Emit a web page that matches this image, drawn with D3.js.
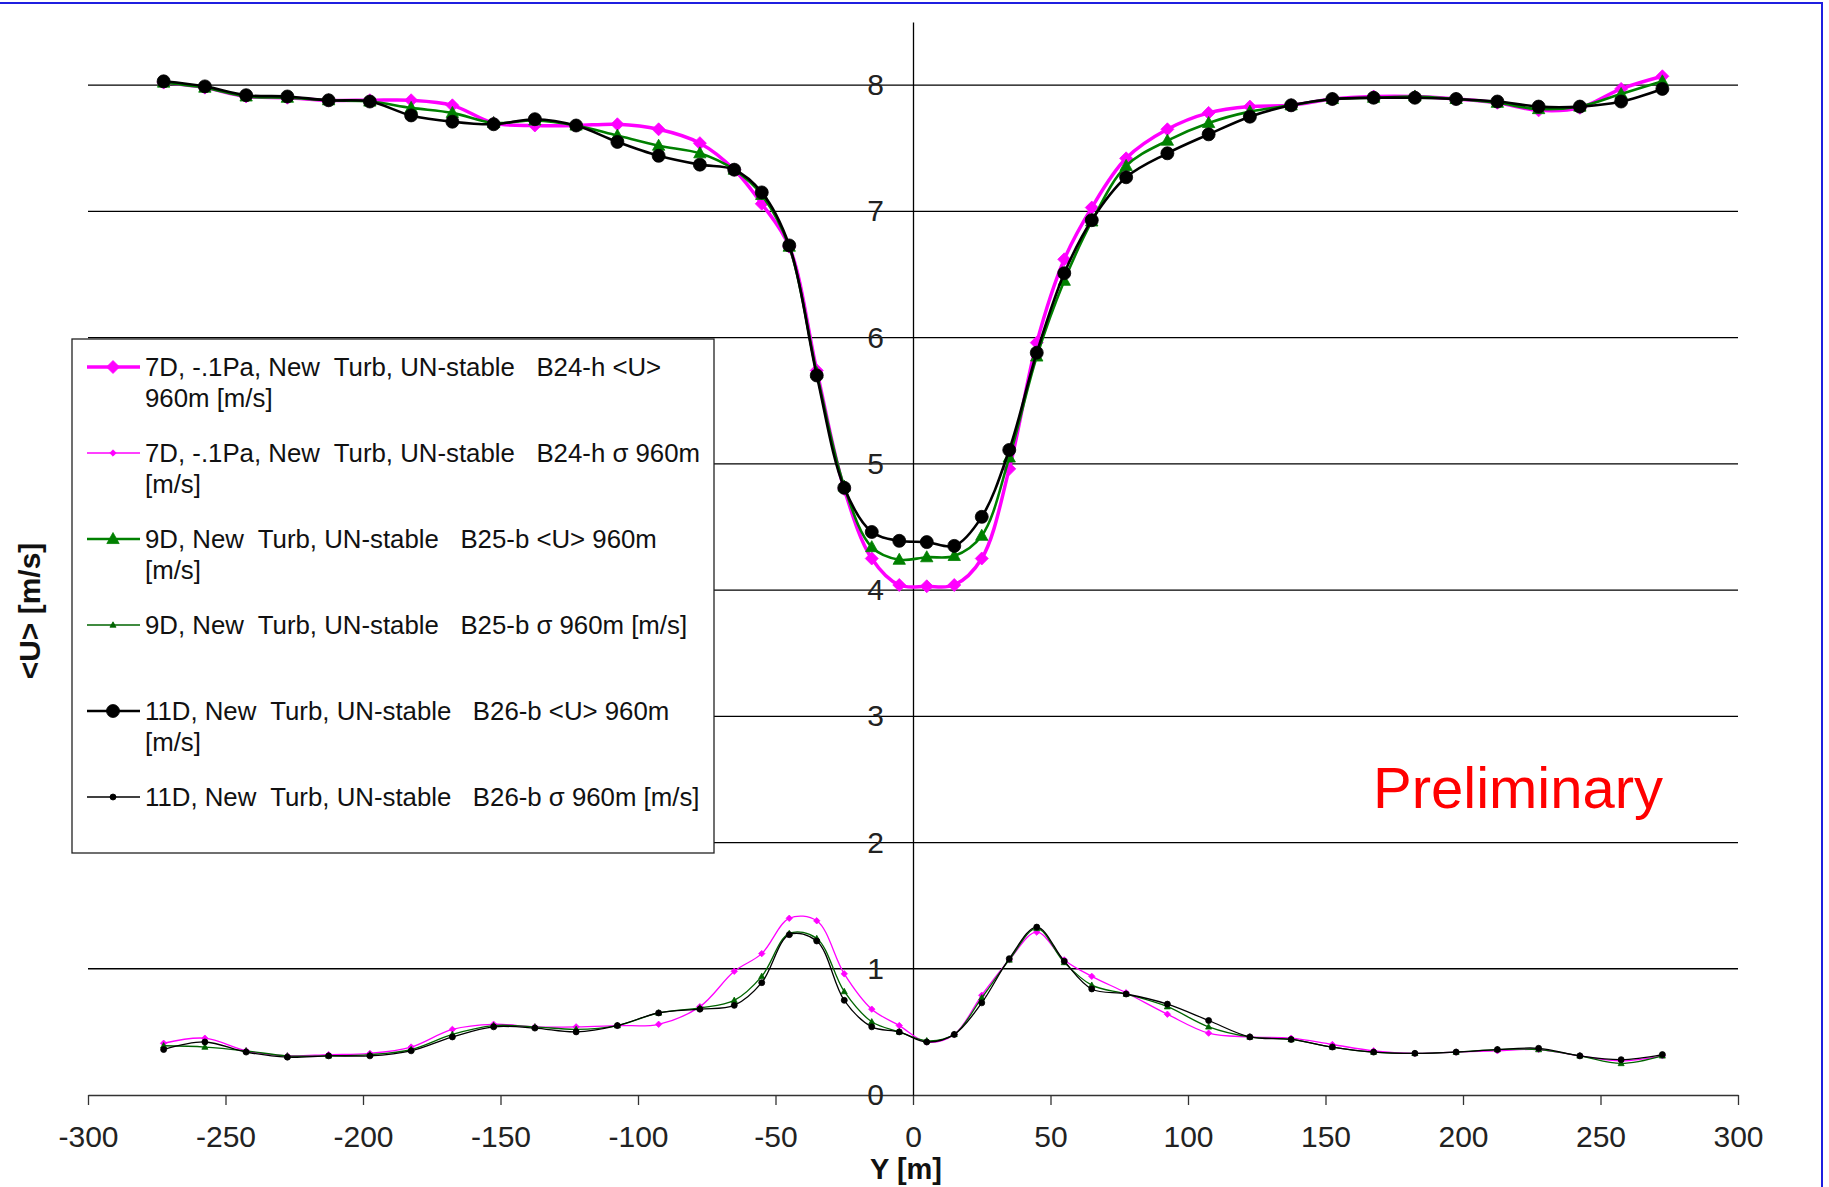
<!DOCTYPE html>
<html><head><meta charset="utf-8">
<script src="https://cdn.jsdelivr.net/npm/d3@7"></script>
<style>
body{margin:0;background:#fff}
text{font-family:"Liberation Sans",Arial,sans-serif}
</style>
</head><body>
<svg id="c" width="1829" height="1187"></svg>
<script>
// ---- data ----
const yPos = [-272.5,-257.5,-242.5,-227.5,-212.5,-197.5,-182.5,-167.5,-152.5,-137.5,-122.5,-107.5,-92.5,-77.5,
  -65,-55,-45,-35,-25,-15,-5, 5,15,25,35,45,55,65,
  77.5,92.5,107.5,122.5,137.5,152.5,167.5,182.5,197.5,212.5,227.5,242.5,257.5,272.5];

const u7D = [8.02,7.98,7.91,7.90,7.88,7.88,7.88,7.84,7.70,7.68,7.68,7.69,7.65,7.54,
  7.33,7.06,6.72,5.74,4.80,4.25,4.04, 4.03,4.04,4.25,4.96,5.96,6.62,7.03,
  7.42,7.65,7.78,7.83,7.84,7.89,7.91,7.91,7.89,7.86,7.80,7.82,7.97,8.07];
const s7D = [0.41,0.45,0.35,0.31,0.32,0.33,0.38,0.52,0.56,0.54,0.54,0.55,0.56,0.70,
  0.98,1.12,1.40,1.38,0.96,0.68,0.55, 0.42,0.48,0.79,1.07,1.29,1.07,0.94,
  0.81,0.64,0.49,0.46,0.45,0.40,0.35,0.33,0.34,0.35,0.36,0.31,0.27,0.31];
const u9D = [8.02,7.98,7.91,7.90,7.88,7.87,7.82,7.78,7.70,7.72,7.68,7.60,7.52,7.46,
  7.33,7.13,6.72,5.72,4.82,4.34,4.24, 4.26,4.27,4.43,5.05,5.85,6.45,6.92,
  7.36,7.56,7.70,7.79,7.84,7.89,7.90,7.91,7.89,7.86,7.81,7.83,7.93,8.03];
const s9D = [0.39,0.38,0.35,0.31,0.31,0.32,0.36,0.48,0.55,0.54,0.52,0.55,0.65,0.69,
  0.75,0.94,1.28,1.24,0.82,0.58,0.50, 0.43,0.48,0.77,1.07,1.32,1.05,0.87,
  0.80,0.70,0.54,0.46,0.44,0.38,0.34,0.33,0.34,0.36,0.36,0.31,0.25,0.31];
const u11D = [8.03,7.99,7.92,7.91,7.88,7.87,7.76,7.71,7.69,7.73,7.68,7.55,7.44,7.37,
  7.33,7.15,6.73,5.70,4.81,4.46,4.39, 4.38,4.35,4.58,5.11,5.88,6.51,6.93,
  7.27,7.46,7.61,7.75,7.84,7.89,7.90,7.90,7.89,7.87,7.83,7.83,7.87,7.97];
const s11D = [0.36,0.42,0.34,0.30,0.31,0.31,0.35,0.46,0.54,0.53,0.50,0.55,0.65,0.68,
  0.71,0.89,1.27,1.22,0.75,0.54,0.50, 0.42,0.48,0.73,1.08,1.33,1.06,0.84,
  0.80,0.72,0.59,0.46,0.44,0.38,0.34,0.33,0.34,0.36,0.37,0.31,0.28,0.32];

const xTicks = [-300,-250,-200,-150,-100,-50,0,50,100,150,200,250,300];
const yTicks = [0,1,2,3,4,5,6,7,8];
const legendLines = [
  ["7D, -.1Pa, New  Turb, UN-stable   B24-h <U>", "960m [m/s]"],
  ["7D, -.1Pa, New  Turb, UN-stable   B24-h \u03C3 960m", "[m/s]"],
  ["9D, New  Turb, UN-stable   B25-b <U> 960m", "[m/s]"],
  ["9D, New  Turb, UN-stable   B25-b \u03C3 960m [m/s]"],
  ["11D, New  Turb, UN-stable   B26-b <U> 960m", "[m/s]"],
  ["11D, New  Turb, UN-stable   B26-b \u03C3 960m [m/s]"]
];

// ---- styles ----
const series = [
  {vals:u7D,  color:"#ff00ff", w:3.5, m:"diamond",  r:6.5},
  {vals:s7D,  color:"#ff00ff", w:1.3, m:"diamond",  r:3.2},
  {vals:u9D,  color:"#008000", w:2.6, m:"triangle", r:6.5},
  {vals:s9D,  color:"#006400", w:1.3, m:"triangle", r:3.2},
  {vals:u11D, color:"#000000", w:2.6, m:"circle",   r:6.5},
  {vals:s11D, color:"#000000", w:1.3, m:"circle",   r:3.0}
];

const svg = d3.select("#c");
const x = d3.scaleLinear().domain([-300,300]).range([88,1738]);
const y = d3.scaleLinear().domain([0,8.5]).range([1095,22]);

function markerPath(type, r){
  if(type==="diamond") return `M0,${-r}L${r},0L0,${r}L${-r},0Z`;
  if(type==="triangle") return `M0,${-r}L${r*0.95},${r*0.7}L${-r*0.95},${r*0.7}Z`;
  return d3.symbol(d3.symbolCircle, Math.PI*r*r)();
}

// outer blue frame (top and right edges)
svg.append("path").attr("d","M0,3H1822V1187")
  .attr("fill","none").attr("stroke","#1f1fe0").attr("stroke-width",2);

// gridlines
svg.append("g").selectAll("line").data(yTicks.filter(d=>d>0)).join("line")
  .attr("x1",x(-300)).attr("x2",x(300)).attr("y1",d=>y(d)).attr("y2",d=>y(d))
  .attr("stroke","#000").attr("stroke-width",1.3);

// x axis
const gx = svg.append("g").attr("transform",`translate(0,${y(0)})`)
  .call(d3.axisBottom(x).tickValues(xTicks).tickSize(10).tickSizeOuter(0).tickPadding(21)
    .tickFormat(d=>String(d)));
gx.select(".domain").attr("stroke","#333").attr("stroke-width",1.3);
gx.selectAll(".tick line").attr("stroke","#333").attr("stroke-width",1.3);
gx.selectAll(".tick text").attr("font-size",30).attr("fill","#222")
  .attr("font-family",'"Liberation Sans",Arial,sans-serif');

// y axis at x=0
const gy = svg.append("g").attr("transform",`translate(${x(0)},0)`)
  .call(d3.axisLeft(y).tickValues(yTicks).tickSize(0).tickSizeOuter(0).tickPadding(29)
    .tickFormat(d=>String(d)));
gy.select(".domain").attr("stroke","#000").attr("stroke-width",1.3);
gy.selectAll(".tick text").attr("font-size",30).attr("fill","#222")
  .attr("font-family",'"Liberation Sans",Arial,sans-serif');

// axis titles
svg.append("text").attr("x",906).attr("y",1179).attr("text-anchor","middle")
  .attr("font-size",29).attr("font-weight","bold").attr("fill","#111").text("Y [m]");
svg.append("text").attr("transform","translate(29,611) rotate(-90)").attr("text-anchor","middle")
  .attr("dominant-baseline","central").attr("font-size",30).attr("font-weight","bold")
  .attr("fill","#111").text("<U> [m/s]");

// series
const line = d3.line().x(d=>x(d[0])).y(d=>y(d[1])).curve(d3.curveCatmullRom.alpha(0.5));
const gs = svg.append("g");
series.forEach(s=>{
  const pts = yPos.map((p,i)=>[p,s.vals[i]]);
  gs.append("path").attr("d",line(pts)).attr("fill","none")
    .attr("stroke",s.color).attr("stroke-width",s.w).attr("stroke-linejoin","round");
  gs.append("g").selectAll("path").data(pts).join("path")
    .attr("transform",d=>`translate(${x(d[0])},${y(d[1])})`)
    .attr("d",markerPath(s.m,s.r)).attr("fill",s.color).attr("stroke",s.color).attr("stroke-width",0.8);
});

// legend
const lg = svg.append("g");
lg.append("rect").attr("x",72).attr("y",339).attr("width",642).attr("height",514)
  .attr("fill","#fff").attr("stroke","#222").attr("stroke-width",1.3);
series.forEach((s,i)=>{
  const cy = 367 + 86*i;
  lg.append("line").attr("x1",87).attr("x2",140).attr("y1",cy).attr("y2",cy)
    .attr("stroke",s.color).attr("stroke-width",s.w);
  lg.append("path").attr("transform",`translate(113,${cy})`).attr("d",markerPath(s.m,s.r))
    .attr("fill",s.color).attr("stroke",s.color).attr("stroke-width",0.8);
  legendLines[i].forEach((t,j)=>{
    lg.append("text").attr("x",145).attr("y",cy+31*j).attr("dominant-baseline","central")
      .attr("font-size",25.8).attr("fill","#111").style("white-space","pre").text(t);
  });
});

// annotation
svg.append("text").attr("x",1373).attr("y",808).attr("font-size",58).attr("fill","#ff0000")
  .text("Preliminary");
</script>
</body></html>
